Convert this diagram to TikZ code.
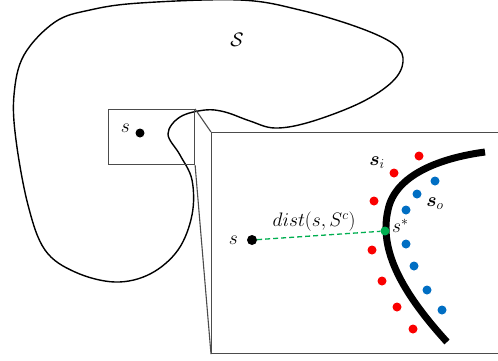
\documentclass[tikz,border=0pt]{standalone}
\usepackage{fix-cm}
\usepackage{amsmath,amssymb,bm}
\definecolor{myred}{RGB}{250,0,0}
\definecolor{myblue}{RGB}{0,110,195}
\definecolor{mygreen}{RGB}{0,175,80}
\begin{document}
\begin{tikzpicture}[x=1pt,y=-1pt,
  dotb/.style={circle,fill=black,inner sep=0pt,minimum size=10pt},
  dotr/.style={circle,fill=myred,inner sep=0pt,minimum size=9pt},
  dotbl/.style={circle,fill=myblue,inner sep=0pt,minimum size=9pt},
  lbl/.style={font=\fontsize{19.5}{22}\selectfont,inner sep=0pt},
  frame/.style={draw=black!70,line width=1.1pt}]
\clip (0,0) rectangle (498,360);
\fill[white] (0,0) rectangle (498,360);
% blob
\draw[line width=1.4pt] plot[smooth cycle,tension=0.6] coordinates {
 (140,3) (240,0) (300,10) (360,28) (395,45) (403,62) (392,82) (360,103)
 (310,122) (275,128) (250,121) (225,112) (205,110) (180,117) (168,134)
 (180,155) (192,180) (192,215) (178,250) (150,274) (115,282) (75,272)
 (45,250) (28,205) (16,140) (14,95) (24,55) (55,22) (90,10)};
\node[lbl] (S) at (237,40) {$\mathcal{S}$};
% small rectangle
\node[frame,minimum width=86pt,minimum height=55pt,inner sep=0pt,anchor=north west] (sr) at (108,109) {};
\node[dotb,minimum size=9pt] (s0) at (140,133) {};
\node[lbl,anchor=east] (s0l) at (130,128) {$s$};
% big rectangle
\fill[white] (211,132) rectangle (497.5,353);
\node[frame,minimum width=287pt,minimum height=221pt,inner sep=0pt,anchor=north west] (br) at (211,132) {};
\draw[frame] (sr.north east) -- (br.north west);
\draw[frame] (sr.south east) -- (br.south west);
% curve
\draw[line width=7pt] (485,152) .. controls (440,158) and (395,175) .. (388,210)
  .. controls (380,245) and (395,285) .. (447,342);
% dots
\foreach \p [count=\i] in {(419,156),(394,173),(374,201),(372,250),(382,281),(397,307),(413,329)}
  \node[dotr] (r\i) at \p {};
\foreach \p [count=\i] in {(435,181),(417,194),(406,210),(406,244),(414,266),(427,290),(442,310)}
  \node[dotbl] (b\i) at \p {};
\node[dotb] (s) at (252,240) {};
\node[lbl,anchor=east] (sl) at (238,240) {$s$};
\node[circle,fill=mygreen,inner sep=0pt,minimum size=9pt] (sst) at (385,231) {};
\draw[mygreen,dashed,line width=1.3pt,dash pattern=on 5pt off 3pt] (s) -- (sst);
\node[lbl,anchor=west] (sstl) at (392,226) {$s^*$};
\node[lbl] (dl) at (314,222) {$dist(s,S^c)$};
\node[lbl] (si) at (377,163) {$\bm{s}_i$};
\node[lbl] (so) at (435,204) {$\bm{s}_o$};
\end{tikzpicture}
\end{document}
